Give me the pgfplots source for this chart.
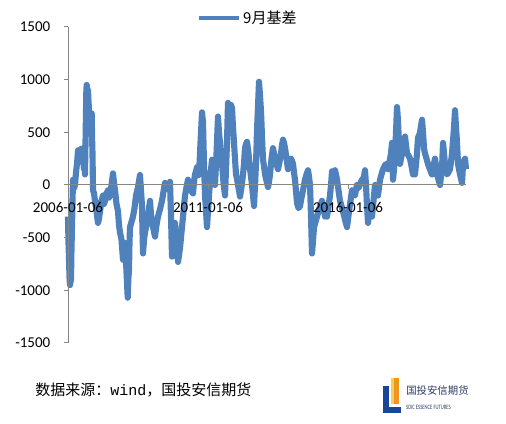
\documentclass[border=0pt]{standalone}
\usepackage{fontspec}
\setmainfont{Carlito}
\newfontfamily\cjk{Noto Sans CJK SC}
\newfontfamily\mono{Liberation Mono}
\usepackage{pgfplots}
\pgfplotsset{compat=1.18}
\definecolor{series}{RGB}{79,129,189}
\definecolor{axisgray}{RGB}{134,134,134}
\definecolor{logoblue}{RGB}{25,70,155}
\definecolor{logoorange}{RGB}{240,150,30}
\definecolor{logoyellow}{RGB}{250,205,90}
\definecolor{logotext}{RGB}{45,60,105}
\pgfplotstableread{
x y
2006.000 -300
2006.018 -550
2006.036 -700
2006.054 -880
2006.071 -950
2006.089 -920
2006.107 -900
2006.125 -600
2006.143 -400
2006.161 -150
2006.179 50
2006.214 -30
2006.250 0
2006.286 120
2006.321 200
2006.339 260
2006.357 330
2006.393 220
2006.429 280
2006.464 340
2006.500 350
2006.536 250
2006.571 150
2006.589 200
2006.607 100
2006.625 400
2006.643 700
2006.655 900
2006.668 950
2006.690 880
2006.714 900
2006.750 700
2006.786 600
2006.816 640
2006.846 680
2006.860 450
2006.875 300
2006.893 -50
2006.929 -80
2006.964 -150
2007.018 -250
2007.071 -360
2007.107 -320
2007.143 -250
2007.196 -150
2007.250 -100
2007.286 -180
2007.321 -150
2007.375 -80
2007.429 -50
2007.464 -120
2007.500 -100
2007.554 0
2007.607 110
2007.643 20
2007.679 -50
2007.732 -180
2007.786 -250
2007.821 -380
2007.857 -450
2007.911 -520
2007.964 -710
2008.000 -600
2008.036 -550
2008.084 -800
2008.132 -1070
2008.155 -900
2008.179 -800
2008.196 -550
2008.214 -400
2008.268 -350
2008.321 -300
2008.375 -220
2008.429 -100
2008.500 -20
2008.571 95
2008.607 -50
2008.643 -200
2008.661 -450
2008.679 -650
2008.714 -520
2008.750 -450
2008.804 -380
2008.857 -300
2008.893 -220
2008.929 -150
2008.964 -280
2009.000 -350
2009.054 -420
2009.107 -490
2009.161 -380
2009.214 -300
2009.286 -230
2009.357 -150
2009.411 -60
2009.464 20
2009.518 -40
2009.571 -30
2009.607 10
2009.643 30
2009.679 -300
2009.714 -680
2009.768 -500
2009.821 -360
2009.875 -550
2009.929 -730
2010.000 -600
2010.071 -400
2010.125 -250
2010.179 -100
2010.232 -20
2010.286 50
2010.321 20
2010.357 0
2010.411 -60
2010.464 -80
2010.500 30
2010.536 100
2010.571 130
2010.607 170
2010.643 90
2010.679 100
2010.732 400
2010.786 690
2010.804 640
2010.821 600
2010.857 200
2010.893 -100
2010.929 -250
2010.964 -400
2011.000 -250
2011.036 -100
2011.089 100
2011.143 240
2011.196 100
2011.250 0
2011.304 300
2011.357 650
2011.393 500
2011.429 400
2011.464 280
2011.500 200
2011.554 20
2011.607 -100
2011.643 150
2011.679 400
2011.696 600
2011.714 780
2011.750 650
2011.786 700
2011.821 760
2011.857 730
2011.893 550
2011.929 400
2011.964 250
2012.000 100
2012.036 60
2012.071 0
2012.107 -50
2012.143 -110
2012.196 -20
2012.250 100
2012.286 200
2012.321 350
2012.357 390
2012.393 410
2012.446 300
2012.500 150
2012.536 80
2012.571 0
2012.607 -100
2012.643 -200
2012.679 0
2012.714 200
2012.732 350
2012.750 520
2012.786 750
2012.821 980
2012.857 850
2012.893 700
2012.929 450
2012.964 240
2013.000 180
2013.036 100
2013.089 40
2013.143 -20
2013.179 30
2013.214 100
2013.268 250
2013.321 350
2013.357 300
2013.393 250
2013.446 200
2013.500 150
2013.554 220
2013.607 300
2013.643 380
2013.679 430
2013.714 400
2013.750 350
2013.804 250
2013.857 150
2013.911 200
2013.964 250
2014.000 230
2014.036 200
2014.071 120
2014.107 50
2014.143 -60
2014.179 -170
2014.232 -220
2014.286 -200
2014.339 -120
2014.393 -50
2014.429 0
2014.464 50
2014.518 100
2014.571 140
2014.607 80
2014.643 0
2014.679 -300
2014.714 -650
2014.750 -530
2014.786 -400
2014.839 -350
2014.893 -300
2014.946 -250
2015.000 -200
2015.036 -180
2015.071 -150
2015.125 -220
2015.179 -300
2015.214 -250
2015.250 -300
2015.304 -200
2015.357 -100
2015.393 0
2015.429 130
2015.482 100
2015.536 140
2015.571 100
2015.607 50
2015.661 -50
2015.714 -150
2015.768 -200
2015.821 -250
2015.893 -330
2015.964 -400
2016.000 -330
2016.036 -250
2016.089 -150
2016.143 -50
2016.196 -80
2016.250 -100
2016.286 -40
2016.321 0
2016.375 -30
2016.429 10
2016.464 30
2016.500 50
2016.536 60
2016.571 80
2016.589 110
2016.607 140
2016.625 70
2016.643 0
2016.679 -200
2016.714 -360
2016.750 -280
2016.786 -200
2016.821 -260
2016.857 -300
2016.893 -200
2016.929 -100
2016.946 -50
2016.964 0
2017.018 -60
2017.071 -100
2017.107 -20
2017.143 50
2017.196 100
2017.250 150
2017.304 180
2017.357 200
2017.393 170
2017.429 150
2017.482 220
2017.536 300
2017.554 350
2017.571 400
2017.589 200
2017.607 50
2017.643 150
2017.679 300
2017.714 500
2017.750 740
2017.768 680
2017.786 600
2017.821 400
2017.857 200
2017.893 250
2017.929 300
2017.982 380
2018.036 460
2018.071 380
2018.107 300
2018.161 280
2018.214 250
2018.268 180
2018.321 100
2018.357 150
2018.393 100
2018.429 200
2018.464 300
2018.482 380
2018.500 450
2018.536 470
2018.571 500
2018.607 560
2018.643 620
2018.679 500
2018.714 350
2018.732 320
2018.750 300
2018.804 250
2018.857 200
2018.893 170
2018.929 150
2018.964 120
2019.000 100
2019.054 180
2019.107 250
2019.143 180
2019.179 100
2019.232 50
2019.286 0
2019.321 80
2019.357 150
2019.375 280
2019.393 400
2019.429 300
2019.464 200
2019.500 150
2019.536 100
2019.589 120
2019.643 150
2019.679 220
2019.714 300
2019.750 420
2019.786 550
2019.804 630
2019.821 710
2019.857 550
2019.893 400
2019.911 300
2019.929 200
2019.964 150
2020.000 100
2020.036 60
2020.071 20
2020.089 100
2020.107 200
2020.143 230
2020.179 250
2020.196 200
2020.214 150
}\basis
\begin{document}
\begin{tikzpicture}[x=0.75pt,y=0.75pt]
\path[use as bounding box] (0,0) rectangle (506,424);
\begin{axis}[
  at={(51pt,60.75pt)}, anchor=south west,
  scale only axis, width=298.5pt, height=237pt,
  xmin=2006, xmax=2020.214, ymin=-1500, ymax=1500,
  axis x line*=middle, axis y line*=left,
  axis line style={axisgray, line width=0.75pt, -},
  tick style={axisgray, line width=0.75pt},
  tick align=outside, major tick length=3pt,
  hide obscured x ticks=false,
  axis on top,
  ytick={-1500,-1000,-500,0,500,1000,1500},
  yticklabels={-1500,-1000,-500,0,500,1000,1500},
  xtick={2006,2011,2016},
  xticklabels={2006-01-06,2011-01-06,2016-01-06},
  ticklabel style={font=\fontsize{11.25}{13}\selectfont, text=black},
  xticklabel style={yshift=-6.5pt},
  yticklabel style={xshift=-6.75pt},
  clip=false,
  legend style={at={(0.452,1.028)}, anchor=center, draw=none, fill=none,
    font=\cjk\fontsize{11.25}{13}\selectfont, inner sep=0pt},
  legend image code/.code={\draw[#1, line width=3pt] (0pt,0pt) -- (30pt,0pt);},
]
\addplot[series, line width=4.6pt, line join=round] table[x=x,y=y] {\basis};
\addlegendentry{9月基差}
\end{axis}
\node[anchor=west, inner sep=0pt] at (35,34) {\cjk\fontsize{11.25}{13}\selectfont 数据来源：{\mono wind}，国投安信期货};
% logo
\fill[logoyellow] (391,20) rectangle (395,46);
\fill[logoorange] (394,20) rectangle (399,46);
\fill[logoblue] (383,11) rectangle (389,38);
\fill[logoblue] (383,11) rectangle (401,17);
\node[anchor=west, inner sep=0pt, text=logotext] at (406,33) {\cjk\fontsize{7.8}{9}\selectfont 国投安信期货};
\node[anchor=west, inner sep=0pt, text=logotext, xscale=0.7] at (406,17) {\fontsize{5}{6}\selectfont SDIC ESSENCE FUTURES};
\end{tikzpicture}
\end{document}
